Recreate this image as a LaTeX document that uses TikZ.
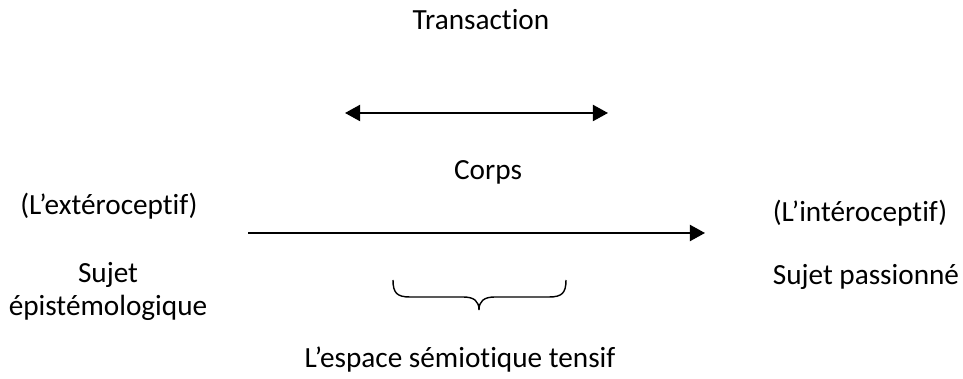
\documentclass[tikz,border=0pt]{standalone}
\usepackage{fontspec}
\setmainfont{Carlito}[Ligatures=NoCommon]
\usetikzlibrary{arrows.meta}

\tikzset{
  lbl/.style={anchor=base, inner sep=0pt},
  tip/.style={-{Triangle[length=10.7pt, width=11.4pt]}, line width=1.4pt},
  tips/.style={{Triangle[length=10.7pt, width=11.4pt]}-{Triangle[length=10.7pt, width=11.4pt]}, line width=1.4pt}
}

\begin{document}
\begin{tikzpicture}[x=0.025cm, y=-0.025cm, font=\fontsize{20.8}{24}\selectfont]
\useasboundingbox (0,0) rectangle (963,379);
\path node[lbl] (T) at (481,30) {Transaction}
coordinate (TL) at (345,113)
coordinate (TR) at (608,113)
node[lbl] (C) at (488,180) {Corps}
node[lbl] (EX) at (109,215) {(L’extéroceptif)}
node[lbl] (SE) at (108,283) {Sujet}
node[lbl] (EP) at (108,316) {épistémologique}
coordinate (CL) at (248,233)
coordinate (CR) at (705,233)
node[lbl] (IN) at (860,222) {(L’intéroceptif)}
node[lbl] (SP) at (866,285) {Sujet passionné}
node[lbl] (ES) at (460,368) {L’espace sémiotique tensif}
;
\draw[tips] (TL) -- (TR);
\draw[tip]  (CL) -- (CR);
% brace over the tensive space
\draw[line width=1pt] (393,280) .. controls (393,293) and (397,297) .. (410,297)
  -- (463,297) .. controls (474,297) and (479,301) .. (479,310)
  .. controls (479,301) and (484,297) .. (495,297)
  -- (549,297) .. controls (562,297) and (566,293) .. (566,280);
\end{tikzpicture}
\end{document}
